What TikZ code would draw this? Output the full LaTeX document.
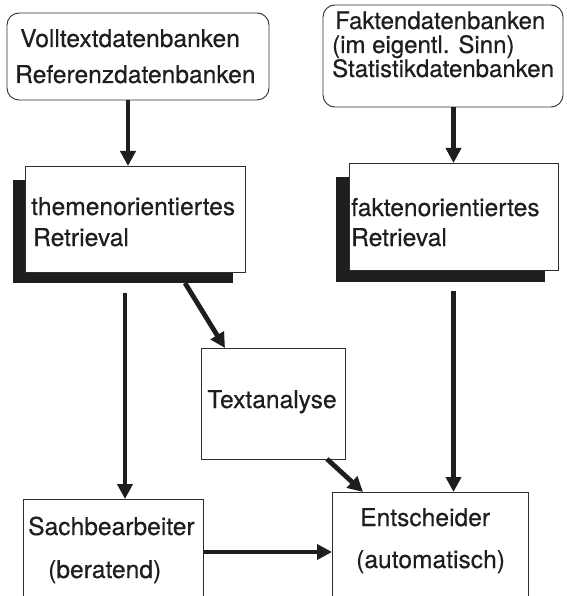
\documentclass[tikz,border=0pt]{standalone}
\usepackage{fontspec}
\setmainfont{TeX Gyre Heros}[FakeBold=0.4]
\usetikzlibrary{arrows.meta}
\definecolor{ink}{HTML}{1E1E1E}
\definecolor{edge}{HTML}{2E2E2E}
\begin{document}
\begin{tikzpicture}[x=1pt,y=-1pt,
  box/.style={draw=edge,line width=0.9pt,fill=white,inner sep=0pt,outer sep=0pt},
  roundbox/.style={box,rounded corners=12pt},
  shadowbox/.style={fill=ink,draw=none,inner sep=0pt,outer sep=0pt},
  txt/.style={font=\fontsize{24.6}{28}\selectfont,text=ink,inner sep=0pt,anchor=base west},
  smalltxt/.style={txt,font=\fontsize{24}{26}\selectfont},
  flow/.style={draw=ink,line width=4.8pt,-{Triangle[length=15pt,width=15pt]}},
]
\useasboundingbox (0,0) rectangle (566,596);

% database sources
\node[roundbox,minimum width=262pt,minimum height=87pt] (b1) at (138,56.5) {};
\node[roundbox,minimum width=240pt,minimum height=102pt] (b2) at (443,56) {};

% retrieval boxes with drop shadows
\node[shadowbox,minimum width=220pt,minimum height=103pt] (s3) at (123,231.5) {};
\node[box,minimum width=220pt,minimum height=106pt] (b3) at (135,219) {};
\node[shadowbox,minimum width=209pt,minimum height=105pt] (s4) at (440.5,229.5) {};
\node[box,minimum width=209pt,minimum height=107pt] (b4) at (453.5,216.5) {};

% processing and decision boxes
\node[box,minimum width=144pt,minimum height=111pt] (ta) at (273,403.5) {};
\node[box,minimum width=180pt,minimum height=113pt] (sb) at (113,555.5) {};
\node[box,minimum width=196pt,minimum height=120pt] (en) at (430,552) {};

% labels
\node[txt] (t1a) at (20,47) {Volltextdatenbanken};
\node[txt] (t1b) at (15,83) {Referenzdatenbanken};
\node[smalltxt] (t2a) at (335,29) {Faktendatenbanken};
\node[smalltxt] (t2b) at (332,53) {(im eigentl. Sinn)};
\node[smalltxt] (t2c) at (332,77) {Statistikdatenbanken};
\node[txt] (t3a) at (31,215) {themenorientiertes};
\node[txt] (t3b) at (33,246) {Retrieval};
\node[txt] (t4a) at (351,216) {faktenorientiertes};
\node[txt] (t4b) at (351,246) {Retrieval};
\node[txt,anchor=base] (t5) at (272,408) {Textanalyse};
\node[txt] (t6a) at (28,535) {Sachbearbeiter};
\node[txt] (t6b) at (48,578) {(beratend)};
\node[txt] (t7a) at (360,526) {Entscheider};
\node[txt] (t7b) at (356,568) {(automatisch)};

% flow arrows
\draw[flow] ([xshift=-10pt]b1.south) -- ([xshift=-10pt]b1.south |- b3.north);
\draw[flow] (b2.south -| b4.north) -- (b4.north);
\draw[flow] ([shift={(2,10)}]s3.south) -- ([xshift=2pt]s3.south |- sb.north);
\draw[flow] ([xshift=62pt]s3.south) -- ([xshift=24pt]ta.north west);
\draw[flow] ([yshift=-21pt]b4.south) -- (b4.south |- en.north);
\draw[flow] ([xshift=-18pt]ta.south east) -- ([xshift=31pt]en.north west);
\draw[flow] (sb.east |- en.west) -- (en.west);
\end{tikzpicture}
\end{document}
